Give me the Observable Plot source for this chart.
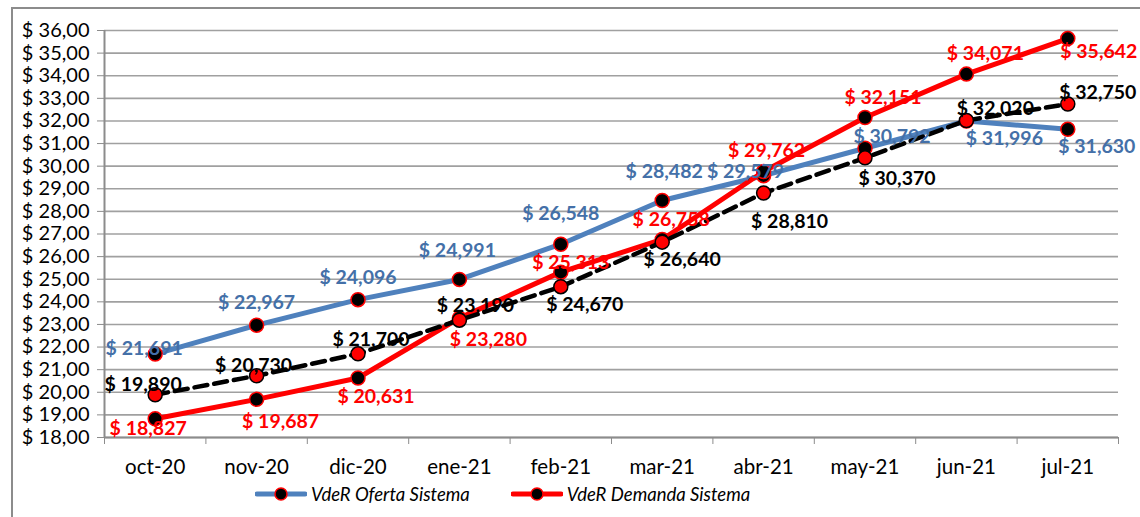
<!DOCTYPE html>
<html>
<head>
<meta charset="utf-8">
<script src="https://cdn.jsdelivr.net/npm/d3@7"></script>
<script src="https://cdn.jsdelivr.net/npm/@observablehq/plot@0.6"></script>
<style>
  body { margin: 0; background: #fff; font-family: Lato, "Open Sans", sans-serif; }
  #wrap { position: relative; width: 1140px; height: 517px; overflow: hidden; }
  #frame { position: absolute; left: 11px; top: 7px; width: 1200px; height: 600px; border: 2px solid #8c8c8c; box-sizing: border-box; }
  #chart { position: absolute; left: 0; top: 0; }
  #legend { position: absolute; top: 483px; left: 255px; display: flex; align-items: center; font-style: italic; font-size: 18.5px; color: #000; }
  .item { display: flex; align-items: center; margin-right: 41px; }
  .item svg { margin-right: 4px; }
</style>
</head>
<body>
<div id="wrap">
  <div id="frame"></div>
  <div id="chart"></div>
  <div id="legend"></div>
</div>
<script>
// ---- data ----
const months = ["oct-20","nov-20","dic-20","ene-21","feb-21","mar-21","abr-21","may-21","jun-21","jul-21"];
const oferta  = [21.691, 22.967, 24.096, 24.991, 26.548, 28.482, 29.579, 30.792, 31.996, 31.630];
const demanda = [18.827, 19.687, 20.631, 23.280, 25.313, 26.758, 29.762, 32.151, 34.071, 35.642];
const tendencia = [19.890, 20.730, 21.700, 23.190, 24.670, 26.640, 28.810, 30.370, 32.020, 32.750];
const yTicks = d3.range(18, 37, 1);
const seriesNames = ["VdeR Oferta Sistema", "VdeR Demanda Sistema"];

// ---- label placement (pixel offsets from each point) ----
const ofertaLabelOffsets = [[-11,-5],[0,-22],[0,-22],[-2,-29],[0,-30],[2,-29],[-18,-4],[27,-12],[38,18],[29,17]];
const demandaLabelOffsets = [[-7,10],[24,22],[18,19],[29,22],[10,-9],[9,-20],[3,-21],[18,-20],[19,-20],[31,13]];
const tendenciaLabelOffsets = [[-12,-10],[-3,-10],[13,-14],[16,-14],[24,18],[20,18],[26,29],[32,21],[29,-12],[30,-11]];

const blueLine = "#4F81BD", blueText = "#4470A8", red = "#FF0000";
const fmtVal = v => "$ " + v.toFixed(3).replace(".", ",");
const fmtTick = v => "$ " + v.toFixed(2).replace(".", ",");

const rows = (arr) => arr.map((v, i) => ({i, v}));
const idx = d3.range(months.length);
const bounds = d3.range(months.length + 1).map(i => i - 0.5);

function labelMarks(arr, offsets, fill) {
  return arr.map((v, i) => Plot.text([{i, v}], {
    x: "i", y: "v", text: d => fmtVal(d.v), fill,
    dx: offsets[i][0], dy: offsets[i][1],
    fontSize: 19.5, fontWeight: "bold"
  }));
}

const chart = Plot.plot({
  width: 1140, height: 478,
  marginLeft: 104, marginRight: 22, marginTop: 30, marginBottom: 41,
  style: { fontFamily: "Lato, 'Open Sans', sans-serif", background: "transparent", overflow: "visible" },
  x: { type: "linear", domain: [-0.5, 9.5] },
  y: { domain: [18, 36] },
  marks: [
    Plot.ruleY(yTicks, { stroke: "#a0a0a0", strokeWidth: 1.6 }),
    Plot.ruleX([-0.5], { stroke: "#8c8c8c", strokeWidth: 2 }),
    Plot.ruleY([18], { stroke: "#8c8c8c", strokeWidth: 2 }),
    Plot.axisY({ ticks: yTicks, tickFormat: fmtTick, tickSize: 7, tickPadding: 8, stroke: "#8c8c8c", fontSize: 20, fontWeight: "normal", fill: "#000", label: null }),
    Plot.axisX({ ticks: bounds, tickFormat: () => "", tickSize: 7, stroke: "#8c8c8c", label: null }),
    Plot.axisX({ ticks: idx, tickFormat: i => months[i], tickSize: 0, tickPadding: 22, fontSize: 20.5, fontWeight: "normal", fill: "#000", label: null }),
    // Oferta
    Plot.line(rows(oferta), { x: "i", y: "v", stroke: blueLine, strokeWidth: 5 }),
    Plot.dot(rows(oferta), { x: "i", y: "v", r: 7, fill: "#000", stroke: red, strokeWidth: 1.5 }),
    // Demanda
    Plot.line(rows(demanda), { x: "i", y: "v", stroke: red, strokeWidth: 5 }),
    Plot.dot(rows(demanda), { x: "i", y: "v", r: 7, fill: "#000", stroke: red, strokeWidth: 1.5 }),
    // trend (dashed)
    Plot.line(rows(tendencia), { x: "i", y: "v", stroke: "#000", strokeWidth: 4.5, strokeDasharray: "13,7" }),
    Plot.dot(rows(tendencia), { x: "i", y: "v", r: 7, fill: red, stroke: "#000", strokeWidth: 1.5 }),
    ...labelMarks(oferta, ofertaLabelOffsets, blueText),
    ...labelMarks(demanda, demandaLabelOffsets, red),
    ...labelMarks(tendencia, tendenciaLabelOffsets, "#000")
  ]
});
document.getElementById("chart").appendChild(chart);

// legend
const legendColors = [blueLine, red];
const legend = document.getElementById("legend");
seriesNames.forEach((name, k) => {
  const item = document.createElement("div");
  item.className = "item";
  item.innerHTML = `<svg width="52" height="16"><line x1="2" x2="50" y1="8" y2="8" stroke="${legendColors[k]}" stroke-width="5" stroke-linecap="round"/><circle cx="26" cy="8" r="6" fill="#000" stroke="${red}" stroke-width="1.5"/></svg><span>${name}</span>`;
  legend.appendChild(item);
});
</script>
</body>
</html>
